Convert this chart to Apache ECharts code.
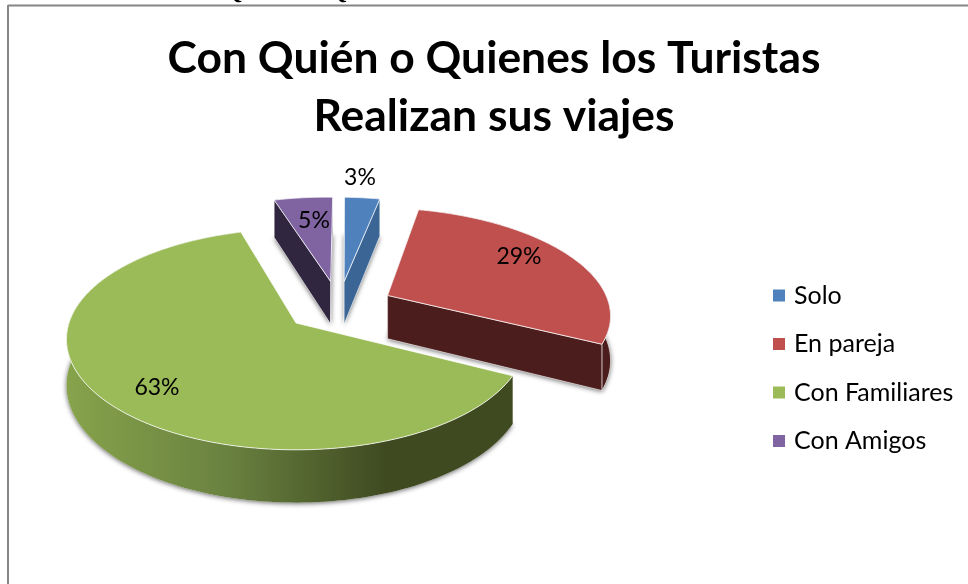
<!DOCTYPE html>
<html><head><meta charset="utf-8">
<style>html,body{margin:0;padding:0;background:#fff}#c{width:968px;height:584px}</style>
<script src="https://cdn.jsdelivr.net/npm/echarts@6/dist/echarts.min.js"></script>
</head><body><div id="c"></div>
<script>
const categories = ['Solo', 'En pareja', 'Con Familiares', 'Con Amigos'];
const percentValues = [3, 29, 63, 5];
const chartTitle = 'Con Quién o Quienes los Turistas\nRealizan sus viajes';
const headingAbove = 'CON QUIÉN O QUIENES LOS TURISTAS REALIZAN SUS VIAJES';

// styling and layout, kept apart from the data
const topColors = ['#4F81BD', '#C0504D', '#9BBB59', '#8064A2'];
const wallColors = ['#3A6594', '#4B1E1D', null, '#30263F'];
const drawOrder = [3, 0, 1, 2];
const labelAnchors = [[360, 178], [519, 257], [157, 388], [314, 221]];
const FONT = 'Lato, "Open Sans", sans-serif';

// 3D view of the pie plane
const view = {cx: 296, cy: 323, R: 227, squash: 0.476, k: 0.148, depth: 45, explode: 0.25, startDeg: 1.9};
const total = percentValues.reduce((a, b) => a + b, 0);
const rad = d => d * Math.PI / 180;
const spans = [];
{ let a = view.startDeg;
  percentValues.forEach(v => { const sweep = v / total * 360; spans.push([a, a + sweep]); a += sweep; }); }
const mid = i => (spans[i][0] + spans[i][1]) / 2;
const dir = d => [Math.sin(rad(d)), Math.cos(rad(d))];
const refDir = dir(mid(2));
const centre = [-view.explode * refDir[0], -view.explode * refDir[1]];

function project(X, Y, drop) {
  const w = 1 + view.k * Y;
  return [view.cx + view.R * X / w, view.cy - view.R * view.squash * Y / w + (drop ? view.depth / w : 0)];
}
function apexOf(i) {
  const d = dir(mid(i));
  return [centre[0] + view.explode * d[0], centre[1] + view.explode * d[1]];
}
function rim(i, drop) {
  const a = apexOf(i), pts = [], n = Math.max(4, Math.ceil((spans[i][1] - spans[i][0]) / 1.5));
  for (let j = 0; j <= n; j++) {
    const t = spans[i][0] + (spans[i][1] - spans[i][0]) * j / n, d = dir(t);
    pts.push(project(a[0] + d[0], a[1] + d[1], drop));
  }
  return pts;
}
const greenWall = new echarts.graphic.LinearGradient(66, 0, 385, 0, [
  {offset: 0, color: '#87A34B'}, {offset: 0.5, color: '#6A8240'}, {offset: 1, color: '#3F4A21'}
], true);

function renderWedge(i) {
  return function () {
    const a = apexOf(i), topRim = rim(i, false), lowRim = rim(i, true);
    const apexT = project(a[0], a[1], false), apexB = project(a[0], a[1], true);
    const wall = wallColors[i] || greenWall;
    const edge = 'rgba(255,255,255,0.75)';
    const poly = (points, style) => ({type: 'polygon', shape: {points}, style});
    const radial = i === 2 ? [] : [
      poly([apexT, topRim[0], lowRim[0], apexB], {fill: wall, stroke: edge, lineWidth: 0.7}),
      poly([apexT, topRim[topRim.length - 1], lowRim[lowRim.length - 1], apexB], {fill: wall, stroke: edge, lineWidth: 0.7})
    ];
    const children = [
      poly([apexB].concat(lowRim), {fill: '#fff', shadowBlur: 5, shadowColor: 'rgba(0,0,0,0.6)', shadowOffsetY: 1}),
      poly(topRim.concat(lowRim.slice().reverse()), {fill: wall, stroke: i === 2 ? null : edge, lineWidth: 0.7})
    ].concat(radial, [
      poly([apexT].concat(topRim), {fill: topColors[i], stroke: edge, lineWidth: 1})
    ]);
    return {type: 'group', children};
  };
}

const series = drawOrder.map((i, pos) => ({
  type: 'custom', name: categories[i], coordinateSystem: 'none', silent: true, z: 2 + pos,
  animation: false, itemStyle: {color: topColors[i]},
  data: [[percentValues[i]]], renderItem: renderWedge(i)
}));

const chart = echarts.init(document.getElementById('c'), null, {renderer: 'canvas'});
chart.setOption({
  backgroundColor: '#fff', animation: false,
  title: {text: chartTitle, left: 489, top: 25, textAlign: 'center',
    textStyle: {fontFamily: FONT, fontWeight: 'bold', fontSize: 44.4, lineHeight: 58, color: '#000'}},
  legend: {orient: 'vertical', left: 768, top: 278, itemWidth: 12, itemHeight: 12, itemGap: 23.5, icon: 'rect',
    selectedMode: false, data: categories,
    textStyle: {fontFamily: FONT, fontSize: 25, color: '#000', padding: [0, 0, 0, 4]}},
  series,
  graphic: [
    {type: 'text', z: 1, style: {text: headingAbove, x: 517, y: 5, align: 'center', verticalAlign: 'bottom',
      font: 'bold 23px "Liberation Serif"', fill: '#000'}},
    {type: 'rect', z: 1, shape: {x: 8, y: 5, width: 960, height: 579}, style: {fill: '#fff'}},
    {type: 'line', z: 1, shape: {x1: 8, y1: 5.5, x2: 968, y2: 5.5}, style: {stroke: '#868686', lineWidth: 2}},
    {type: 'line', z: 1, shape: {x1: 8, y1: 5, x2: 8, y2: 584}, style: {stroke: '#868686', lineWidth: 2}}
  ].concat(labelAnchors.map((p, i) => ({
    type: 'text', z: 20, style: {text: percentValues[i] + '%', x: p[0], y: p[1], align: 'center', verticalAlign: 'middle',
      font: '23px Lato, "Open Sans", sans-serif', fill: '#000'}
  })))
});
</script></body></html>
